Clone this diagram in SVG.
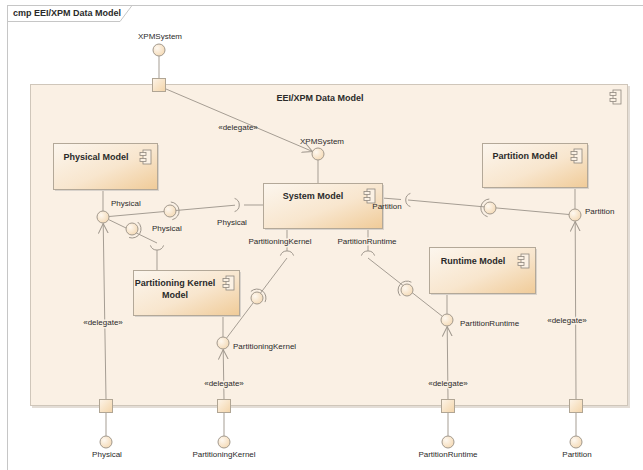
<svg xmlns="http://www.w3.org/2000/svg" width="643" height="470" viewBox="0 0 643 470">
  <defs>
    <linearGradient id="compFill" x1="0" y1="0" x2="1" y2="1">
      <stop offset="0" stop-color="#FCF6EE"/>
      <stop offset="0.55" stop-color="#F8E6CE"/>
      <stop offset="1" stop-color="#F0CB98"/>
    </linearGradient>
    <radialGradient id="ballFill" cx="0.35" cy="0.35" r="0.8">
      <stop offset="0" stop-color="#FEF8F0"/>
      <stop offset="1" stop-color="#F3D6AE"/>
    </radialGradient>
    <linearGradient id="portFill" x1="0" y1="0" x2="1" y2="1">
      <stop offset="0" stop-color="#FDF4E8"/>
      <stop offset="1" stop-color="#F3D4A8"/>
    </linearGradient>
    <marker id="openArrow" markerWidth="12" markerHeight="12" refX="10" refY="5" orient="auto" markerUnits="userSpaceOnUse">
      <path d="M0,0 L10,5 L0,10" fill="none" stroke="#9E968C" stroke-width="1"/>
    </marker>
    <!-- component stereotype icon -->
    <g id="compIcon">
      <rect x="-3" y="-7" width="8" height="14" fill="#FBF1E4" stroke="#8E877E" stroke-width="0.8"/>
      <rect x="-6" y="-4.5" width="6" height="3" fill="#FBF1E4" stroke="#8E877E" stroke-width="0.8"/>
      <rect x="-6" y="1.5" width="6" height="3" fill="#FBF1E4" stroke="#8E877E" stroke-width="0.8"/>
    </g>
  </defs>
  <style>
    text { font-family: "Liberation Sans", Arial, sans-serif; fill: #2A2A2A; }
    .title { font-size: 9px; font-weight: bold; }
    .lbl { font-size: 8px; }
    .halo { paint-order: stroke; stroke: #FAF0E4; stroke-width: 3px; stroke-linejoin: round; }
    .box { fill: url(#compFill); stroke: #B3A898; stroke-width: 1; }
    .shadow { fill: #D9D3CC; }
    .ball { fill: url(#ballFill); stroke: #A2998D; stroke-width: 1; }
    .port { fill: url(#portFill); stroke: #B0A594; stroke-width: 1; }
    .ln { fill: none; stroke: #A59D93; stroke-width: 1; }
    .cup { fill: none; stroke: #9E968C; stroke-width: 1; }
  </style>

  <rect width="643" height="470" fill="#FFFFFF"/>

  <!-- diagram frame -->
  <g id="frame">
    <rect x="7.5" y="5.5" width="700" height="500" fill="none" stroke="#C6C6C6" stroke-width="1"/>
    <path d="M7.5,21.5 H120 L132,5.5" fill="none" stroke="#C6C6C6" stroke-width="1"/>
    <text class="title" x="13" y="16">cmp EEI/XPM Data Model</text>
  </g>

  <!-- enclosing component -->
  <g id="eei-xpm-data-model">
    <rect x="32" y="86" width="598" height="322" fill="#E3DDD6"/>
    <rect x="30.5" y="84.5" width="597" height="321" fill="#FAF0E4" stroke="#CFC6BA" stroke-width="1"/>
    <text class="title" x="320" y="101" text-anchor="middle">EEI/XPM Data Model</text>
    <use href="#compIcon" x="616" y="97"/>
  </g>

  <!-- connectors -->
  <g id="connectors">
    <!-- external interfaces to boundary ports -->
    <line class="ln" x1="159" y1="56" x2="159" y2="78"/>
    <line class="ln" x1="106" y1="413" x2="106" y2="436"/>
    <line class="ln" x1="224" y1="413" x2="224" y2="436"/>
    <line class="ln" x1="448" y1="413" x2="448" y2="436"/>
    <line class="ln" x1="576" y1="413" x2="576" y2="436"/>

    <!-- delegations -->
    <line class="ln" x1="166" y1="89" x2="312.5" y2="151.5" marker-end="url(#openArrow)"/>
    <line class="ln" x1="106" y1="399" x2="103.2" y2="223.5" marker-end="url(#openArrow)"/>
    <line class="ln" x1="224" y1="399" x2="223.2" y2="349.5" marker-end="url(#openArrow)"/>
    <line class="ln" x1="448" y1="399" x2="447.2" y2="326.5" marker-end="url(#openArrow)"/>
    <line class="ln" x1="576" y1="399" x2="575.2" y2="221.5" marker-end="url(#openArrow)"/>

    <!-- provided interface stems -->
    <line class="ln" x1="103" y1="189" x2="103" y2="211"/>
    <line class="ln" x1="318" y1="160" x2="318" y2="183"/>
    <line class="ln" x1="223" y1="315" x2="223" y2="337"/>
    <line class="ln" x1="447" y1="293" x2="447" y2="314"/>
    <line class="ln" x1="575" y1="187" x2="575" y2="209"/>

    <!-- required interface stems -->
    <line class="ln" x1="263" y1="205" x2="244" y2="205"/>
    <line class="ln" x1="157" y1="270" x2="157" y2="250"/>
    <line class="ln" x1="287" y1="228" x2="287" y2="251"/>
    <line class="ln" x1="368" y1="228" x2="368" y2="251"/>
    <line class="ln" x1="382" y1="198" x2="401" y2="199.5"/>

    <!-- assemblies -->
    <line class="ln" x1="109" y1="216.5" x2="235" y2="205.2"/>
    <line class="ln" x1="108.5" y1="219.5" x2="157" y2="243"/>
    <line class="ln" x1="287" y1="258" x2="226.5" y2="338.2"/>
    <line class="ln" x1="368" y1="258" x2="442.3" y2="316.3"/>
    <line class="ln" x1="408" y1="200" x2="569" y2="214.5"/>

    <!-- required sockets -->
    <path class="cup" d="M234.6,198.4 A7,7 0 0 1 234.6,211.6"/>
    <path class="cup" d="M150.4,245.4 A7,7 0 0 0 163.6,245.4"/>
    <path class="cup" d="M280.4,255.6 A7,7 0 0 1 293.6,255.6"/>
    <path class="cup" d="M361.4,255.6 A7,7 0 0 1 374.6,255.6"/>
    <path class="cup" d="M410.4,193.4 A7,7 0 0 0 410.4,206.6"/>

    <!-- assembly ball-and-socket symbols -->
    <circle class="ball" cx="170" cy="211" r="6"/>
    <path class="cup" d="M170.8,202 A9,9 0 0 1 172.3,219.7"/>
    <circle class="ball" cx="132" cy="229" r="6"/>
    <path class="cup" d="M137.7,222 A9,9 0 0 1 129.1,237.5"/>
    <circle class="ball" cx="257" cy="298" r="6"/>
    <path class="cup" d="M250.9,291.4 A9,9 0 0 1 265,302.1"/>
    <circle class="ball" cx="407" cy="290" r="6"/>
    <path class="cup" d="M400.2,295.9 A9,9 0 0 1 411.4,282.2"/>
    <circle class="ball" cx="490" cy="208" r="6"/>
    <path class="cup" d="M487.6,216.7 A9,9 0 0 1 489.3,199"/>
  </g>

  <!-- boundary ports -->
  <g id="port-xpmsystem"><rect class="port" x="152.5" y="78.5" width="13" height="13"/></g>
  <g id="port-physical"><rect class="port" x="99.5" y="399.5" width="13" height="13"/></g>
  <g id="port-partitioningkernel"><rect class="port" x="217.5" y="399.5" width="13" height="13"/></g>
  <g id="port-partitionruntime"><rect class="port" x="441.5" y="399.5" width="13" height="13"/></g>
  <g id="port-partition"><rect class="port" x="569.5" y="399.5" width="13" height="13"/></g>

  <!-- external provided interfaces -->
  <g id="iface-xpmsystem-ext">
    <circle class="ball" cx="159" cy="50" r="6"/>
    <text class="lbl" x="160" y="39" text-anchor="middle">XPMSystem</text>
  </g>
  <g id="iface-physical-ext">
    <circle class="ball" cx="106" cy="442" r="6"/>
    <text class="lbl" x="107" y="457" text-anchor="middle">Physical</text>
  </g>
  <g id="iface-partitioningkernel-ext">
    <circle class="ball" cx="224" cy="442" r="6"/>
    <text class="lbl" x="224" y="457" text-anchor="middle">PartitioningKernel</text>
  </g>
  <g id="iface-partitionruntime-ext">
    <circle class="ball" cx="448" cy="442" r="6"/>
    <text class="lbl" x="448" y="457" text-anchor="middle">PartitionRuntime</text>
  </g>
  <g id="iface-partition-ext">
    <circle class="ball" cx="576" cy="442" r="6"/>
    <text class="lbl" x="577" y="457" text-anchor="middle">Partition</text>
  </g>

  <!-- inner components -->
  <g id="physical-model">
    <rect class="shadow" x="55" y="145" width="104" height="46"/>
    <rect class="box" x="53.5" y="143.5" width="104" height="46"/>
    <text class="title" x="96" y="160" text-anchor="middle">Physical Model</text>
    <use href="#compIcon" x="146" y="157"/>
  </g>
  <g id="system-model">
    <rect class="shadow" x="265" y="185" width="119" height="45"/>
    <rect class="box" x="263.5" y="183.5" width="119" height="45"/>
    <text class="title" x="313" y="199" text-anchor="middle">System Model</text>
    <use href="#compIcon" x="370" y="196"/>
  </g>
  <g id="partition-model">
    <rect class="shadow" x="484" y="145" width="105" height="44"/>
    <rect class="box" x="482.5" y="143.5" width="105" height="44"/>
    <text class="title" x="525" y="159" text-anchor="middle">Partition Model</text>
    <use href="#compIcon" x="577" y="156"/>
  </g>
  <g id="partitioning-kernel-model">
    <rect class="shadow" x="135" y="272" width="106" height="45"/>
    <rect class="box" x="133.5" y="270.5" width="106" height="45"/>
    <text class="title" x="175" y="286" text-anchor="middle">Partitioning Kernel</text>
    <text class="title" x="175" y="298" text-anchor="middle">Model</text>
    <use href="#compIcon" x="229" y="283"/>
  </g>
  <g id="runtime-model">
    <rect class="shadow" x="431" y="249" width="106" height="46"/>
    <rect class="box" x="429.5" y="247.5" width="106" height="46"/>
    <text class="title" x="473" y="264" text-anchor="middle">Runtime Model</text>
    <use href="#compIcon" x="524" y="261"/>
  </g>

  <!-- inner provided interfaces -->
  <g id="iface-physical">
    <circle class="ball" cx="103" cy="217" r="6"/>
    <text class="lbl" x="111" y="206">Physical</text>
  </g>
  <g id="iface-xpmsystem">
    <circle class="ball" cx="318" cy="154" r="6"/>
    <text class="lbl" x="322" y="144" text-anchor="middle">XPMSystem</text>
  </g>
  <g id="iface-partitioningkernel">
    <circle class="ball" cx="223" cy="343" r="6"/>
    <text class="lbl" x="233" y="349">PartitioningKernel</text>
  </g>
  <g id="iface-partitionruntime">
    <circle class="ball" cx="447" cy="320" r="6"/>
    <text class="lbl" x="460" y="326">PartitionRuntime</text>
  </g>
  <g id="iface-partition">
    <circle class="ball" cx="575" cy="215" r="6"/>
    <text class="lbl" x="585" y="214">Partition</text>
  </g>

  <!-- connector and required interface labels -->
  <g id="labels">
    <text class="lbl" x="232" y="225" text-anchor="middle">Physical</text>
    <text class="lbl" x="152" y="231">Physical</text>
    <text class="lbl" x="387" y="209" text-anchor="middle">Partition</text>
    <text class="lbl halo" x="280" y="244" text-anchor="middle">PartitioningKernel</text>
    <text class="lbl halo" x="367" y="244" text-anchor="middle">PartitionRuntime</text>
    <text class="lbl" x="238" y="130" text-anchor="middle">«delegate»</text>
    <text class="lbl halo" x="103" y="325" text-anchor="middle">«delegate»</text>
    <text class="lbl halo" x="224" y="386" text-anchor="middle">«delegate»</text>
    <text class="lbl halo" x="448" y="386" text-anchor="middle">«delegate»</text>
    <text class="lbl halo" x="567" y="323" text-anchor="middle">«delegate»</text>
  </g>
</svg>
